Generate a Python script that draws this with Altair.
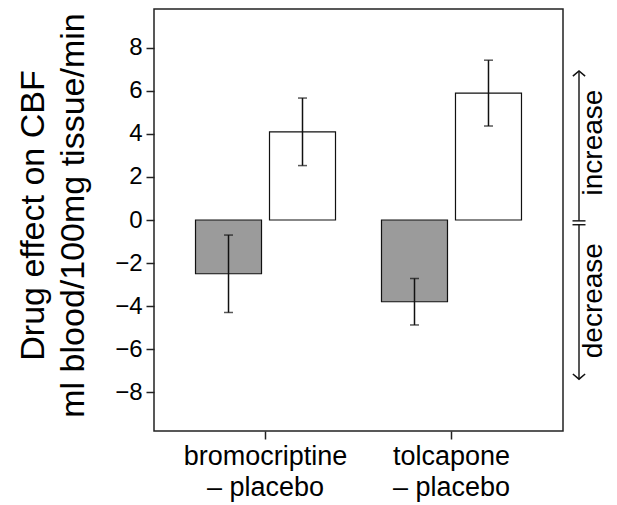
import altair as alt
import pandas as pd

# ---- data ----
drugs = ["bromocriptine", "tolcapone"]
groups = ["group 1", "group 2"]
means = {
    "bromocriptine": [-2.5, 4.1],
    "tolcapone": [-3.8, 5.9],
}
errors = {
    "bromocriptine": [1.8, 1.57],
    "tolcapone": [1.08, 1.53],
}
y_ticks = [-8, -6, -4, -2, 0, 2, 4, 6, 8]
fills = ["#9b9b9b", "#ffffff"]

rows = []
for d in drugs:
    for g, m, e in zip(groups, means[d], errors[d]):
        rows.append({"drug": d, "grp": g, "mean": m, "lo": m - e, "hi": m + e})
df = pd.DataFrame(rows)

# annotation on the right (in data units of the y axis)
arrow_up = pd.DataFrame({"y": [-0.04], "y2": [6.93]})
arrow_dn = pd.DataFrame({"y": [-0.22], "y2": [-7.4]})
breaks = pd.DataFrame({"y": [-0.04, -0.22]})
labels = pd.DataFrame({"y": [3.6, -3.75], "text": ["increase", "decrease"]})

W, H = 409, 422
FONT = "Liberation Sans"

x_enc = alt.X(
    "drug:N",
    sort=drugs,
    scale=alt.Scale(paddingInner=0.2473, paddingOuter=0.2232),
    axis=alt.Axis(
        title=None, labelAngle=0, labelFontSize=27, labelLineHeight=31,
        labelExpr="[datum.label, '\u2013 placebo']", tickSize=8, tickWidth=1.5,
        tickColor="#222", domain=False, labelColor="#000", labelPadding=4,
    ),
)
xo_enc = alt.XOffset("grp:N", sort=groups, scale=alt.Scale(paddingInner=0.108, paddingOuter=0))
y_scale = alt.Scale(domain=[-9.81, 9.81], nice=False, zero=False)

bars = alt.Chart(df).mark_bar(stroke="#111", strokeWidth=1.2).encode(
    x=x_enc,
    xOffset=xo_enc,
    y=alt.Y(
        "mean:Q",
        scale=y_scale,
        axis=alt.Axis(
            values=y_ticks, grid=False, domain=False, tickSize=8, tickWidth=1.5,
            tickColor="#222", labelFontSize=24, labelPadding=4, labelColor="#000",
            title=["Drug effect on CBF", "ml blood/100mg tissue/min"],
            titleFontSize=34, titleFontWeight="normal", titleLineHeight=40,
            titleX=-104, titleY=H / 2 - 5, titleColor="#000",
        ),
    ),
    y2=alt.datum(0),
    color=alt.Color("grp:N", scale=alt.Scale(domain=groups, range=fills), legend=None),
)

err = alt.Chart(df).mark_rule(color="#111", strokeWidth=1.5).encode(
    x=alt.X("drug:N", sort=drugs), xOffset=alt.XOffset("grp:N", sort=groups),
    y="lo:Q", y2="hi:Q",
)
cap_lo = alt.Chart(df).mark_tick(color="#111", size=9, thickness=1.5).encode(
    x=alt.X("drug:N", sort=drugs), xOffset=alt.XOffset("grp:N", sort=groups), y="lo:Q",
)
cap_hi = alt.Chart(df).mark_tick(color="#111", size=9, thickness=1.5).encode(
    x=alt.X("drug:N", sort=drugs), xOffset=alt.XOffset("grp:N", sort=groups), y="hi:Q",
)

AX = W + 16
up_line = alt.Chart(arrow_up).mark_rule(color="#111", strokeWidth=1.4).encode(
    x=alt.value(AX), y="y:Q", y2="y2:Q"
)
dn_line = alt.Chart(arrow_dn).mark_rule(color="#111", strokeWidth=1.4).encode(
    x=alt.value(AX), y="y:Q", y2="y2:Q"
)
up_head = alt.Chart(arrow_up).mark_point(
    shape="M -1 0.85 L 0 0 L 1 0.85", filled=False, stroke="#111", strokeWidth=1.5, size=150, opacity=1
).encode(x=alt.value(AX), y="y2:Q")
dn_head = alt.Chart(arrow_dn).mark_point(
    shape="M -1 -0.85 L 0 0 L 1 -0.85", filled=False, stroke="#111", strokeWidth=1.5, size=150, opacity=1
).encode(x=alt.value(AX), y="y2:Q")
brk = alt.Chart(breaks).mark_rule(color="#111", strokeWidth=1.4).encode(
    x=alt.value(AX - 6.5), x2=alt.value(AX + 6.5), y="y:Q"
)
txt = alt.Chart(labels).mark_text(
    angle=270, align="center", baseline="alphabetic", fontSize=28, font=FONT, color="#000"
).encode(x=alt.value(AX + 23), y="y:Q", text="text:N")

chart = alt.layer(
    bars, err, cap_lo, cap_hi, up_line, dn_line, up_head, dn_head, brk, txt
).properties(
    width=W, height=H,
    autosize=alt.AutoSizeParams(type="none"),
    padding={"left": 146, "top": 1, "right": 46, "bottom": 74},
).configure(font=FONT).configure_view(stroke="#222", strokeWidth=1.5)

chart.save("out.html", embed_options={"renderer": "svg", "actions": False})
